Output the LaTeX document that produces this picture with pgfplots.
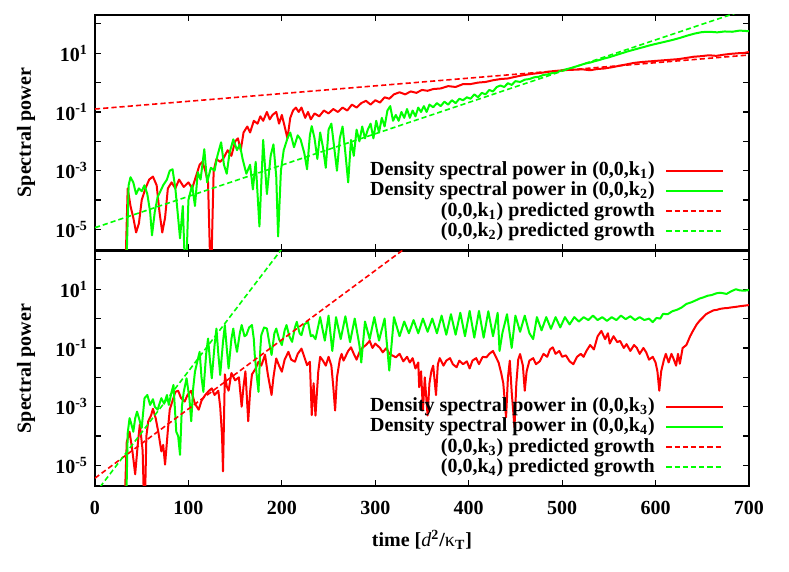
\documentclass[border=0pt]{standalone}
\usepackage{fontspec}
\setmainfont{Liberation Serif}
\usepackage{pgfplots}
\pgfplotsset{compat=1.18}

\pgfplotsset{
  dat/.style={line width=1pt, line join=round},
  pred/.style={line width=0.8pt, dash pattern=on 2.6pt off 1.5pt},
}
\newcommand{\lbl}{\fontsize{10}{12}\selectfont\bfseries}

\begin{document}
\lbl
\begin{tikzpicture}
\path[use as bounding box] (-47.5pt,-43pt) rectangle (347pt,243pt);

% upper panel: k1, k2
\begin{axis}[at={(0pt,118pt)}, anchor=south west,
    width=327pt, height=117.5pt, scale only axis,
    xmin=0, xmax=700, ymode=log, ymin=2e-6, ymax=200,
    xtick={0,100,200,300,400,500,600,700}, xticklabels={},
    ytick={1e-5,1e-3,1e-1,10},
    yticklabels={10\textsuperscript{-5},10\textsuperscript{-3},10\textsuperscript{-1},10\textsuperscript{1}},
    minor ytick={1e-4,1e-2,1,100},
    tick align=inside, major tick length=3pt, minor tick length=3pt,
    tick style={black, line width=0.6pt},
    axis line style={black, line width=0.7pt},
    tick label style={font=\lbl},
    ylabel={Spectral power},
    ylabel style={at={(axis description cs:-0.098,0.5)}, anchor=base, font=\lbl},
    legend cell align=right, legend plot pos=right,
    legend image code/.code={\draw[#1] (0pt,0pt) -- (28.5pt,0pt);},
    legend style={draw=none, fill=none, at={(rel axis cs:0.963,0.035)}, anchor=south east,
      inner sep=0pt, row sep=0pt, column sep=4.5pt, font=\lbl,
      nodes={inner sep=0.8pt, text height=6.8pt, text depth=1.7pt}}]
\addplot[dat, color=red] coordinates {(32,1e-7)(35,2.5e-4)(38,6.3e-5)(41,2.5e-5)(44,7.9e-6)(47,1.6e-5)(50,1e-4)(54,2.5e-4)(58,5e-4)(62,6.3e-4)(66,3.2e-4)(69,4e-5)(72,7.9e-6)(75,2.5e-5)(78,2.5e-4)(82,4e-4)(86,2.5e-4)(90,5e-4)(95,2.8e-4)(100,4e-4)(104,2.5e-4)(108,6.3e-4)(112,1.6e-3)(115,2e-3)(118,1e-3)(121,4e-4)(124,1e-7)(127,1e-3)(130,2.5e-3)(134,2e-3)(138,2.8e-3)(142,5e-3)(146,3.2e-3)(150,1e-2)(153,1.26e-2)(156,5e-3)(159,2e-2)(163,3.2e-2)(166,2e-2)(170,5e-2)(174,4e-2)(177,7.1e-2)(180,5e-2)(184,0.1)(187,5.6e-2)(190,7.9e-2)(194,0.1)(197,4e-2)(200,7.9e-2)(203,3.2e-2)(206,1.26e-2)(209,6.3e-2)(212,0.112)(215,0.141)(218,0.1)(221,0.141)(225,6.3e-2)(228,0.1)(231,5.6e-2)(235,8.9e-2)(240,7.1e-2)(245,0.112)(250,8.9e-2)(255,0.126)(260,0.1)(265,0.141)(270,0.112)(275,0.178)(280,0.141)(285,0.2)(290,0.24)(295,0.178)(300,0.251)(305,0.209)(310,0.316)(315,0.282)(320,0.398)(326,0.468)(332,0.398)(338,0.5)(344,0.447)(350,0.562)(356,0.525)(362,0.603)(370,0.631)(378,0.759)(386,0.708)(394,0.891)(402,0.891)(410,1.0)(418,1.05)(426,1.2)(434,1.32)(442,1.38)(450,1.58)(458,1.78)(466,1.95)(474,2.09)(482,2.24)(490,2.45)(498,2.57)(506,2.69)(514,2.75)(522,2.82)(530,2.63)(537,2.88)(545,3.02)(553,3.31)(561,3.72)(569,4.17)(577,4.68)(585,5.01)(593,5.25)(601,5.5)(609,5.75)(617,6.03)(625,6.31)(633,6.92)(641,7.59)(649,7.94)(657,8.51)(665,8.13)(673,8.91)(681,9.55)(689,10)(695,10.2)(700,11)};
\addlegendentry{Density spectral power in (0,0,k\textsubscript{1})}
\addplot[dat, color=green] coordinates {(33,1e-7)(36,3.2e-4)(38,6e-4)(41,4e-4)(44,1.6e-4)(47,2.5e-4)(50,2e-4)(53,3.2e-4)(56,1.6e-4)(59,4e-5)(61,6.3e-6)(64,4e-5)(67,1.26e-4)(70,2e-4)(73,3.2e-4)(77,5e-4)(80,1e-3)(83,1.12e-3)(86,2.5e-4)(89,2.5e-5)(91,5e-6)(94,6.3e-5)(97,1e-7)(100,1e-4)(104,3.2e-4)(107,6.3e-5)(110,8.9e-4)(113,5e-4)(117,5.4e-3)(120,4e-4)(124,1.26e-3)(128,1e-3)(131,3.2e-3)(135,9.3e-3)(138,1.6e-3)(141,7.9e-4)(144,4e-3)(148,1.17e-2)(152,5e-3)(155,7.9e-3)(158,2.5e-3)(162,7.9e-4)(166,1.6e-3)(169,2.3e-4)(172,2e-3)(176,1.26e-5)(180,1.12e-2)(184,1.6e-4)(188,3.2e-3)(191,7.9e-3)(194,6.3e-4)(196,5.8e-6)(199,1e-3)(202,5e-3)(206,1.26e-2)(209,2e-2)(213,6.3e-3)(217,1.6e-2)(220,1.17e-2)(224,4e-3)(227,1.12e-3)(230,1.6e-2)(232,3.3e-2)(235,1.26e-2)(238,2.5e-3)(241,2e-2)(244,6.3e-3)(247,1.26e-3)(250,2.5e-2)(253,4e-2)(256,6.3e-3)(259,1e-3)(262,1.26e-2)(265,3.2e-2)(268,4e-3)(271,4e-4)(274,1.12e-2)(277,3.2e-3)(280,2.5e-2)(283,1e-2)(286,3.2e-2)(289,1.26e-2)(292,2.5e-2)(295,4e-2)(298,1.26e-2)(301,5e-2)(304,2e-2)(307,6.3e-2)(310,3.2e-2)(313,0.112)(316,0.158)(319,5e-2)(322,7.9e-2)(325,5e-2)(328,0.1)(331,6.3e-2)(334,0.126)(337,6.3e-2)(340,0.112)(343,7.1e-2)(346,0.141)(349,0.1)(352,0.158)(355,0.1)(358,0.178)(362,0.145)(366,0.2)(370,0.158)(374,0.224)(378,0.178)(382,0.251)(386,0.2)(390,0.282)(394,0.251)(398,0.316)(402,0.282)(406,0.398)(410,0.316)(414,0.447)(418,0.398)(422,0.562)(426,0.5)(430,0.708)(434,0.794)(438,0.708)(442,0.955)(446,0.832)(450,1.12)(455,1.05)(460,1.26)(465,1.32)(470,1.51)(475,1.58)(480,1.82)(485,1.91)(490,2.14)(495,2.29)(500,2.63)(505,2.88)(510,3.16)(515,3.55)(520,3.98)(525,4.47)(530,4.79)(535,5.37)(540,5.89)(545,6.61)(550,7.24)(556,8.32)(562,9.55)(570,11.5)(578,13.5)(586,15.8)(594,18.6)(602,21.4)(610,24.5)(618,28.2)(626,33.1)(634,39.8)(642,46.8)(650,52.5)(658,53.7)(666,51.3)(674,55)(682,53.7)(690,58.9)(700,56.2)};
\addlegendentry{Density spectral power in (0,0,k\textsubscript{2})}
\addplot[pred, color=red] coordinates {(0,0.126)(700,8.7)};
\addlegendentry{(0,0,k\textsubscript{1}) predicted growth}
\addplot[pred, color=green] coordinates {(0,1.15e-5)(700,331)};
\addlegendentry{(0,0,k\textsubscript{2}) predicted growth}
\end{axis}

% lower panel: k3, k4
\begin{axis}[at={(0pt,0pt)}, anchor=south west,
    width=327pt, height=117.5pt, scale only axis,
    xmin=0, xmax=700, ymode=log, ymin=2e-6, ymax=200,
    xtick={0,100,200,300,400,500,600,700},
    xticklabels={0,100,200,300,400,500,600,700},
    xticklabel style={yshift=-4pt},
    ytick={1e-5,1e-3,1e-1,10},
    yticklabels={10\textsuperscript{-5},10\textsuperscript{-3},10\textsuperscript{-1},10\textsuperscript{1}},
    minor ytick={1e-4,1e-2,1,100},
    tick align=inside, major tick length=3pt, minor tick length=3pt,
    tick style={black, line width=0.6pt},
    axis line style={black, line width=0.7pt},
    tick label style={font=\lbl},
    ylabel={Spectral power},
    ylabel style={at={(axis description cs:-0.098,0.5)}, anchor=base, font=\lbl},
    xlabel={time [{\mdseries\itshape d}\textsuperscript{2}/{\mdseries κ}\textsubscript{T}]},
    xlabel style={at={(axis description cs:0.5,0)}, yshift=-30.5pt, anchor=base, font=\lbl},
    legend cell align=right, legend plot pos=right,
    legend image code/.code={\draw[#1] (0pt,0pt) -- (28.5pt,0pt);},
    legend style={draw=none, fill=none, at={(rel axis cs:0.963,0.035)}, anchor=south east,
      inner sep=0pt, row sep=0pt, column sep=4.5pt, font=\lbl,
      nodes={inner sep=0.8pt, text height=6.8pt, text depth=1.7pt}}]
\addplot[dat, color=red] coordinates {(31,1e-7)(34,6.3e-5)(37,1.4e-4)(40,3.2e-5)(43,5e-6)(46,6.3e-5)(48,2.5e-4)(51,3.2e-5)(53,1e-7)(55,1e-4)(57,3.2e-4)(60,5e-4)(62,8.5e-4)(65,4e-4)(68,1.26e-4)(71,3e-5)(73,5e-5)(75,1.07e-5)(78,1.6e-4)(80,7.9e-4)(83,1.6e-3)(86,3.2e-3)(89,3.5e-3)(92,2e-3)(96,1.5e-3)(99,2.5e-3)(103,3.5e-3)(107,1.26e-3)(111,7.9e-4)(114,1.6e-3)(118,2.5e-3)(122,3.5e-3)(125,4.2e-3)(128,2.5e-3)(132,3.5e-3)(134,1e-3)(136,1e-4)(137,6.3e-6)(139,1.26e-2)(141,5e-3)(143,3.5e-3)(146,1.4e-2)(150,7.9e-3)(154,1e-2)(157,1e-3)(159,5e-3)(161,1.6e-2)(164,3.2e-4)(166,3.2e-3)(168,1.26e-2)(172,2e-2)(175,3.4e-2)(178,2.5e-2)(182,5.9e-2)(185,1.26e-2)(189,2.5e-3)(191,1e-2)(194,4.4e-2)(197,2.5e-2)(200,1.55e-2)(203,4e-2)(207,7.4e-2)(210,4e-2)(214,3.4e-2)(217,6.3e-2)(221,9.5e-2)(224,5e-2)(227,2.6e-2)(230,3.4e-2)(232,5.2e-4)(234,6.3e-3)(236,5e-4)(239,1.6e-2)(241,5e-2)(244,3.7e-2)(247,2.5e-2)(250,5e-2)(253,2.5e-2)(255,5e-3)(257,7.4e-4)(259,1e-2)(262,4e-2)(264,6.3e-2)(266,3.7e-2)(268,5e-2)(271,7.9e-2)(274,0.105)(277,6.3e-2)(280,4e-2)(283,7.1e-2)(286,0.1)(290,0.126)(294,0.174)(297,0.1)(300,0.141)(305,0.1)(308,7.1e-2)(312,0.1)(315,6.3e-2)(318,5.6e-2)(322,4.8e-2)(326,6.3e-2)(330,3.5e-2)(334,5e-2)(337,3.2e-2)(340,4.5e-2)(343,2e-2)(346,3.2e-2)(347,4.6e-3)(349,1.6e-2)(351,7.4e-4)(353,1e-2)(356,5e-4)(358,6.3e-3)(360,1.6e-2)(362,2.5e-2)(365,2.5e-3)(367,2.8e-2)(369,4.5e-2)(373,2.5e-2)(376,3.7e-2)(380,4.5e-2)(383,2.8e-2)(387,2.2e-2)(390,3.7e-2)(394,2.8e-2)(398,3.5e-2)(401,2e-2)(404,3.7e-2)(408,4.5e-2)(411,2.8e-2)(415,5e-2)(419,4.8e-2)(422,6.3e-2)(426,7.9e-2)(429,5e-2)(432,3.2e-2)(435,1.3e-2)(437,6.3e-3)(440,4.4e-4)(442,1e-2)(444,3.7e-2)(446,3.2e-3)(449,2e-4)(451,6.3e-3)(453,4e-2)(455,6.2e-2)(458,2.5e-2)(460,3.5e-3)(462,1.6e-2)(465,3.7e-2)(469,4.5e-2)(472,2.8e-2)(476,3.5e-2)(480,6.3e-2)(484,5e-2)(487,8.9e-2)(490,0.105)(493,6.3e-2)(497,7.9e-2)(500,5e-2)(504,5.6e-2)(508,3.5e-2)(512,2.8e-2)(516,5e-2)(520,6.3e-2)(523,5e-2)(526,7.9e-2)(530,0.126)(534,8.9e-2)(538,0.251)(542,0.38)(546,0.2)(549,0.316)(551,0.141)(555,0.251)(559,0.158)(562,0.174)(566,0.1)(569,0.135)(573,7.9e-2)(577,0.126)(580,0.1)(583,6.3e-2)(587,0.1)(590,7.1e-2)(593,4e-2)(597,5e-2)(600,3.2e-2)(602,1.6e-2)(604,3.5e-3)(606,1.6e-2)(609,4e-2)(611,6.3e-2)(614,3.2e-2)(617,6.3e-2)(619,4.5e-2)(622,2.5e-2)(624,6.3e-2)(626,2.9e-2)(629,0.1)(633,0.126)(637,0.251)(640,0.38)(644,0.631)(647,0.832)(651,1.12)(654,1.41)(658,1.66)(662,1.91)(666,2.0)(669,2.14)(673,2.24)(677,2.29)(681,2.4)(686,2.51)(690,2.63)(695,2.75)(700,2.88)};
\addlegendentry{Density spectral power in (0,0,k\textsubscript{3})}
\addplot[dat, color=green] coordinates {(33,1e-7)(35,1.26e-4)(37,4.1e-4)(39,2.5e-4)(41,1.4e-4)(43,4e-4)(45,6.8e-4)(48,3.2e-4)(50,1.9e-4)(53,1.95e-3)(56,2.5e-3)(59,1.15e-3)(62,1.8e-3)(64,1e-3)(67,7.9e-4)(71,1.95e-3)(74,1.26e-3)(77,2.5e-3)(79,1.15e-3)(82,3.2e-3)(84,5.5e-3)(87,1.4e-4)(89,1e-4)(91,2.3e-5)(93,1e-3)(95,3.2e-3)(98,9.3e-3)(101,2e-3)(103,3.2e-4)(105,4e-3)(107,1.55e-2)(110,4e-2)(112,7.4e-2)(114,1e-2)(116,3.2e-3)(119,6.3e-2)(121,0.209)(123,4e-2)(125,9.3e-3)(128,0.126)(130,0.457)(132,6.3e-2)(134,1.2e-2)(137,0.158)(139,0.603)(141,0.1)(143,2e-2)(146,0.2)(148,0.457)(150,0.158)(152,7.4e-2)(155,0.316)(157,0.603)(160,0.251)(162,0.275)(165,0.5)(168,0.603)(170,0.2)(171,5.8e-2)(173,1.26e-2)(175,3.2e-3)(177,0.1)(178,0.275)(181,0.5)(184,0.457)(187,0.126)(189,5.8e-2)(192,0.316)(194,0.457)(197,0.2)(200,0.126)(203,0.398)(205,0.603)(208,0.251)(211,0.162)(214,0.5)(216,0.776)(219,0.316)(221,0.275)(224,0.631)(228,0.776)(231,0.251)(233,0.275)(236,0.2)(241,1.12)(246,0.178)(250,1.26)(254,7.9e-2)(258,1.12)(263,0.2)(268,1.2)(273,0.158)(278,1.0)(283,0.126)(285,3.2e-2)(289,0.794)(294,0.2)(299,1.12)(304,0.178)(310,1.0)(315,1.7e-2)(320,1.12)(326,0.251)(331,0.794)(336,0.316)(341,0.891)(346,0.316)(351,1.0)(356,0.355)(361,1.0)(366,0.316)(371,1.26)(376,0.282)(381,1.41)(386,0.282)(391,1.58)(396,0.251)(401,1.82)(406,0.224)(411,1.82)(416,0.224)(421,1.78)(426,0.251)(431,1.58)(433,7.9e-2)(436,0.316)(441,1.41)(446,0.1)(450,1.26)(455,0.355)(460,1.26)(465,0.316)(469,0.2)(473,1.12)(478,0.398)(483,1.12)(488,0.447)(493,1.12)(498,0.5)(503,1.12)(508,0.631)(513,1.12)(518,0.794)(523,1.12)(528,0.891)(533,1.26)(538,0.891)(543,1.12)(548,0.832)(553,1.12)(558,0.891)(563,1.26)(568,0.955)(573,1.2)(578,0.891)(583,1.12)(588,0.891)(593,1.0)(597,0.759)(601,1.05)(605,1.0)(608,1.45)(613,1.41)(618,1.78)(623,2.0)(628,2.4)(633,3.16)(638,3.55)(643,4.17)(647,4.79)(651,5.25)(656,6.03)(660,6.31)(665,7.24)(669,7.59)(673,7.24)(676,6.92)(681,8.51)(686,10)(690,9.12)(695,8.91)(700,9.33)};
\addlegendentry{Density spectral power in (0,0,k\textsubscript{4})}
\addplot[pred, color=red] coordinates {(0,3.7e-6)(340,380)};
\addlegendentry{(0,0,k\textsubscript{3}) predicted growth}
\addplot[pred, color=green] coordinates {(0,1.1e-6)(210,617)};
\addlegendentry{(0,0,k\textsubscript{4}) predicted growth}
\end{axis}
\end{tikzpicture}
\end{document}
